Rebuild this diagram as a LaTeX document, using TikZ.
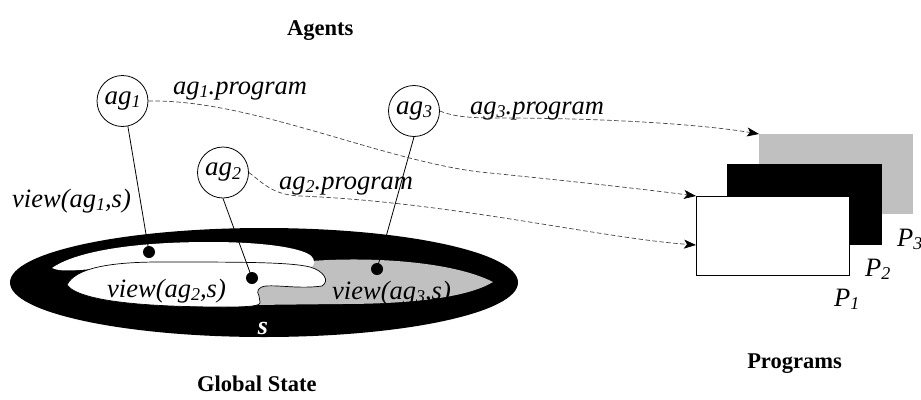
\documentclass[tikz,border=0pt]{standalone}
\usepackage{fontspec}
\setmainfont{Liberation Serif}
\usetikzlibrary{arrows.meta}
\definecolor{lgray}{RGB}{192,192,192}
\definecolor{dashcol}{RGB}{70,70,70}
\newcommand\ix[1]{\raisebox{-0.25ex}{\fontsize{18}{18}\selectfont #1}}
\begin{document}
\begin{tikzpicture}[x=1pt,y=-1pt,
  agent/.style={circle,draw,line width=0.8pt,minimum size=51pt,inner sep=0pt,font=\fontsize{27}{27}\selectfont\itshape},
  lbl/.style={font=\fontsize{26.5}{26.5}\selectfont\itshape,inner sep=0pt,anchor=base west},
  title/.style={font=\fontsize{22.5}{22.5}\selectfont\bfseries,inner sep=0pt},
  dot/.style={circle,fill=black,minimum size=12pt,inner sep=0pt},
  link/.style={line width=0.8pt},
  prog/.style={draw=dashcol,line width=0.7pt,dash pattern=on 4.5pt off 2.5pt,-{Stealth[length=12pt,width=9pt,inset=3pt,color=black]}},
  rectbox/.style={rectangle,inner sep=0pt,anchor=north west}]
\useasboundingbox (0,0) rectangle (921,399);

% titles
\node[title,anchor=base west] (tagents) at (287,35) {Agents};
\node[title,anchor=base west] (tglobal) at (197,391) {Global State};
\node[title,anchor=base east] (tprog) at (842,368) {Programs};

% global state
\fill[black] (264,282.5) ellipse [x radius=254, y radius=54.5];
\fill[lgray] (300,262) .. controls (360,256) and (450,260) .. (493,282)
  .. controls (470,296) and (420,304) .. (340,304) -- (252,305) -- (252,280) -- cycle;
\fill[white] (52,268) .. controls (75,252) and (130,242) .. (210,242)
  .. controls (265,242) and (300,248) .. (310,255)
  .. controls (316,260) and (316,266) .. (308,269)
  -- (110,268) .. controls (85,269) and (62,273) .. cycle;
\draw[fill=white,line width=0.7pt] (67,285) .. controls (75,268) and (110,262) .. (160,262)
  .. controls (240,262) and (290,262) .. (310,267)
  .. controls (324,271) and (330,281) .. (322,286)
  .. controls (300,289) and (280,285) .. (266,286)
  .. controls (258,287) and (256,291) .. (259,296)
  -- (260,302) .. controls (261,306) and (250,307) .. (225,307)
  .. controls (150,307) and (80,302) .. cycle;
\node[font=\fontsize{26}{26}\selectfont\bfseries\itshape,text=white,inner sep=0pt,anchor=base] (s) at (263,334) {s};

% dots
\node[dot] (d1) at (149,252) {};
\node[dot] (d2) at (252,278) {};
\node[dot] (d3) at (377,269) {};

% program rectangles
\node[rectbox,fill=lgray,minimum width=154pt,minimum height=80pt] (p3) at (759,134) {};
\node[rectbox,fill=black,minimum width=155pt,minimum height=81pt] (p2) at (727,164) {};
\node[rectbox,fill=white,draw=black,line width=0.8pt,minimum width=153pt,minimum height=79pt] (p1) at (696,196) {};
\coordinate (in2) at (696,245);
\node[lbl] (lp1) at (834,306) {P\ix{1}};
\node[lbl] (lp2) at (865,276) {P\ix{2}};
\node[lbl] (lp3) at (897,246) {P\ix{3}};

% agents
\node[agent] (ag1) at (122.5,101) {ag\ix{1}};
\node[agent] (ag2) at (223,172.5) {ag\ix{2}};
\node[agent] (ag3) at (414,111) {ag\ix{3}};

\draw[link] (ag1.-78) -- (d1.center);
\draw[link] (ag2.south) -- (d2.center);
\draw[link] (ag3.south) -- (d3.center);

% labels
\node[lbl] (l1) at (173,94) {ag\ix{1}.program};
\node[lbl] (l2) at (279,189) {ag\ix{2}.program};
\node[lbl] (l3) at (470,114) {ag\ix{3}.program};
\node[lbl] (v1) at (12,207) {view(ag\ix{1},s)};
\node[lbl] (v2) at (107,297) {view(ag\ix{2},s)};
\node[lbl] (v3) at (332,299) {view(ag\ix{3},s)};

% program connectors
\draw[prog] (ag1.east) .. controls (250,99) and (380,160) .. (480,172)
  .. controls (580,182) and (650,190) .. (p1.north west);
\draw[prog] (ag2.east) .. controls (262,182) and (272,195) .. (300,196)
  .. controls (450,202) and (600,238) .. (in2);
\draw[prog] (ag3.east) .. controls (455,117) and (470,118) .. (500,118)
  .. controls (600,118) and (700,124) .. (p3.north west);
\end{tikzpicture}
\end{document}
